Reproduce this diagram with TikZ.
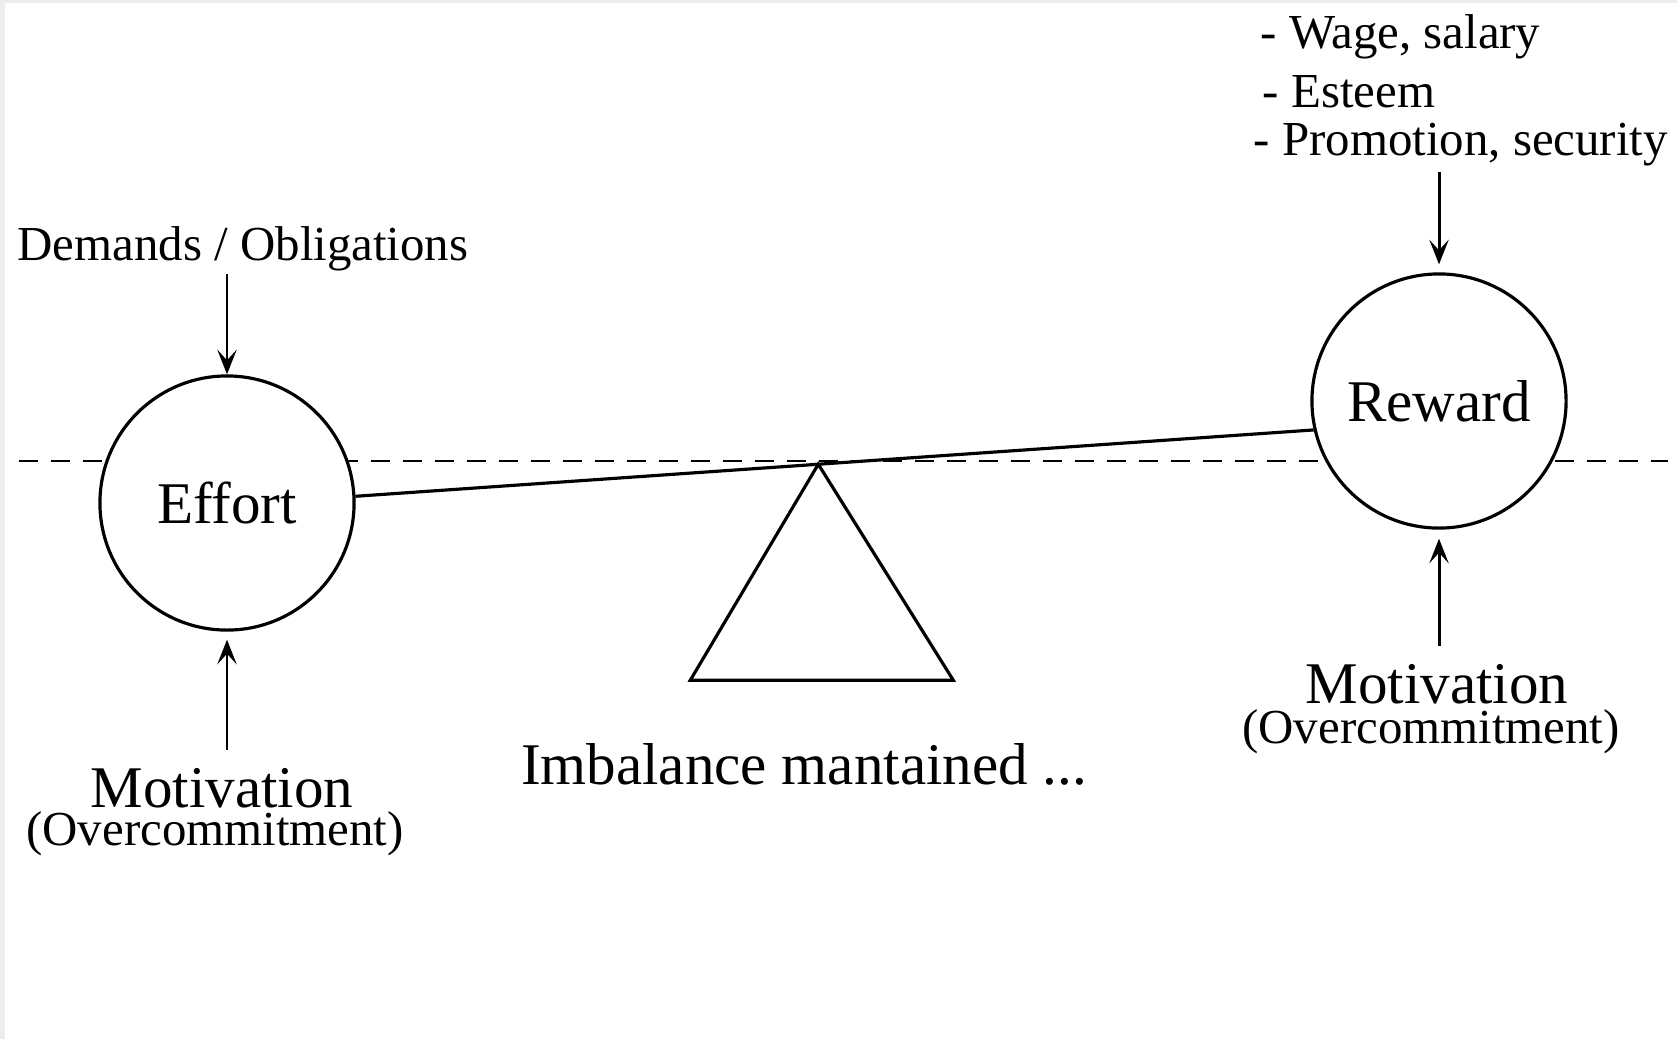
\documentclass[tikz,border=0pt]{standalone}
\usepackage{fontspec}
\setmainfont{Liberation Serif}
\usetikzlibrary{calc,arrows.meta}
\begin{document}
\begin{tikzpicture}[x=0.01cm,y=-0.01cm,
  every node/.style={inner sep=0pt},
  small/.style={font=\fontsize{13.9}{16}\selectfont},
  big/.style={font=\fontsize{16.8}{20}\selectfont},
  ball/.style={circle,draw,fill=white,line width=0.9pt,minimum size=2.54cm,big},
  arr/.style={-{Stealth[length=7pt,width=5.5pt,inset=3pt]},line width=0.85pt},
  level/.style={dashed,dash pattern=on 5.4pt off 3.7pt,line width=0.8pt},
  beam/.style={line width=0.9pt}]
\useasboundingbox (0,0) rectangle (1677,1039);
\fill[white] (0,0) rectangle (1677,1039);
\fill[black!7] (0,0) rectangle (1677,3);
\fill[black!7] (0,0) rectangle (5,1039);

% horizontal reference level
\coordinate (lvlL) at (19,461);
\coordinate (lvlR) at (1668,461);
\draw[level] (lvlL) -- (lvlR);

% the two weights
\node[ball] (effort) at (227,503) {Effort};
\node[ball] (reward) at (1439,401) {Reward};

% tilted beam resting on the fulcrum
\draw[beam] (effort.3) -- (reward.193);
\coordinate (pivot) at ($(effort.3)!0.483!(reward.193)$);
\draw[beam,line join=miter] (pivot) -- ($(pivot)+(-128,216)$) -- ($(pivot)+(135,216)$) -- cycle;
\node[big,anchor=base] (imb) at (804,784) {Imbalance mantained ...};

% inputs to effort
\node[small,anchor=base] (dem) at (243,260) {Demands / Obligations};
\coordinate (d0) at ($(effort.north)+(0,-100)$);
\draw[arr] (d0) -- (effort.north);
\node[big,anchor=base] (motL) at (222,807) {Motivation};
\node[small,anchor=base] (ocL) at (215,845) {(Overcommitment)};
\coordinate (m0) at ($(effort.south)+(0,118)$);
\draw[arr,shorten >=0.08cm] (m0) -- (effort.south);

% inputs to reward
\node[small,anchor=base west] (w1) at (1260,48) {- Wage, salary};
\node[small,anchor=base west] (w2) at (1262,107) {- Esteem};
\node[small,anchor=base west] (w3) at (1253,155) {- Promotion, security};
\coordinate (r0) at ($(reward.north)+(0,-100)$);
\draw[arr,shorten >=0.08cm] (r0) -- (reward.north);
\node[big,anchor=base] (motR) at (1437,703) {Motivation};
\node[small,anchor=base] (ocR) at (1431,743) {(Overcommitment)};
\coordinate (m1) at ($(reward.south)+(0,116)$);
\draw[arr,shorten >=0.09cm] (m1) -- (reward.south);
\end{tikzpicture}
\end{document}
